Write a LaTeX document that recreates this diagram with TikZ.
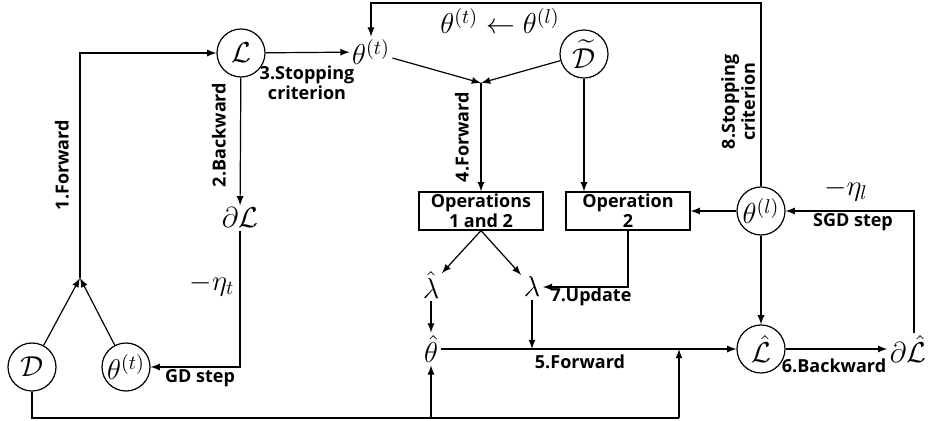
\documentclass[tikz,border=0pt]{standalone}
\usepackage{amsmath}
\usepackage{amssymb}
\usepackage{fontspec}
\setmainfont{Open Sans}
\usetikzlibrary{arrows,positioning}

\begin{document}
\begin{tikzpicture}[->,>=latex,semithick,x=0.5pt,y=-0.5pt,
                    state/.style={circle,draw,minimum size=24pt,inner sep=0pt,font=\Large},
                    var/.style={inner sep=1pt,font=\Large},
                    opbox/.style={rectangle,draw,minimum width=62pt,minimum height=19pt,
                                  inner sep=1pt,align=center,font=\bfseries\fontsize{9}{10}\selectfont},
                    lbl/.style={align=center,inner sep=1pt,font=\bfseries\fontsize{9}{10}\selectfont}]

  \useasboundingbox (0,0) rectangle (930,421);

  % nodes
  \node[state] (L)    at (241,53)  {$\mathcal{L}$};
  \node[var]   (thT)  at (371,52)  {$\theta^{(t)}$};
  \node[state] (Dt)   at (584,54)  {$\widetilde{\mathcal{D}}$};
  \node[var]   (dL)   at (240,218) {$\partial\mathcal{L}$};
  \node[opbox] (ops12) at (481,211) {Operations\\1 and 2};
  \node[opbox] (op2)  at (628,211) {Operation\\2};
  \node[state] (thL)  at (761,211) {$\theta^{(l)}$};
  \node[var]   (lamh) at (431,285) {$\hat{\lambda}$};
  \node[var]   (lam)  at (532,287) {$\lambda$};
  \node[var]   (thh)  at (431,349) {$\hat{\theta}$};
  \node[state] (Lh)   at (761,349) {$\hat{\mathcal{L}}$};
  \node[var]   (dLh)  at (908,349) {$\partial\hat{\mathcal{L}}$};
  \node[state] (D)    at (32,367)  {$\mathcal{D}$};
  \node[state] (th0)  at (126,367) {$\theta^{(t)}$};

  \coordinate (j0)  at (80,278);
  \coordinate (j1)  at (481,83);
  \coordinate (top) at (0,3);
  \coordinate (bot) at (679,418);

  % labels
  \node[lbl,rotate=90] (lfwd1)  at (62,165)  {1.Forward};
  \node[lbl,rotate=90] (lbwd2)  at (219,135) {2.Backward};
  \node[lbl]           (lstop3) at (307,83)  {3.Stopping\\criterion};
  \node[lbl,rotate=90] (lfwd4)  at (462,137) {4.Forward};
  \node[lbl]           (lfwd5)  at (580,362) {5.Forward};
  \node[lbl]           (lbwd6)  at (834,366) {6.Backward};
  \node[lbl]           (lupd7)  at (591,297) {7.Update};
  \node[lbl,rotate=90] (lstop8) at (738,102) {8.Stopping\\criterion};
  \node[lbl]           (lgd)    at (200,378) {GD step};
  \node[lbl]           (lsgd)   at (853,222) {SGD step};
  \node[var]           (etat)   at (212,285) {$-\eta_t$};
  \node[var]           (etal)   at (846,190) {$-\eta_l$};
  \node[var]           (upd)    at (500,21)  {$\theta^{(t)} \leftarrow \theta^{(l)}$};

  % connectors
  \path (D)     edge (j0)
        (th0)   edge (j0)
        (L)     edge (dL)
                edge (thT)
        (thT)   edge (j1)
        (Dt)    edge (j1)
        (ops12.south) edge (lamh)
                edge (lam)
        (lamh)  edge (thh)
        (thh)   edge (Lh)
        (thL)   edge (op2)
                edge (Lh)
        (Lh)    edge (dLh);

  \draw (j0) |- (L);
  \draw (dL) |- (th0);
  \draw (j1) -- (ops12);
  \draw (Dt) -- (Dt |- op2.north);
  \draw (op2) |- (lam);
  \draw (lam) -- (lam |- thh);
  \draw ([xshift=3pt]dLh.north) |- (thL);
  \draw (thL) -- (thL |- top) -| (thT);
  \draw[-] (D) |- (bot);
  \draw (bot) -- (bot |- Lh);
  \draw (thh |- bot) -- (thh);
\end{tikzpicture}
\end{document}
